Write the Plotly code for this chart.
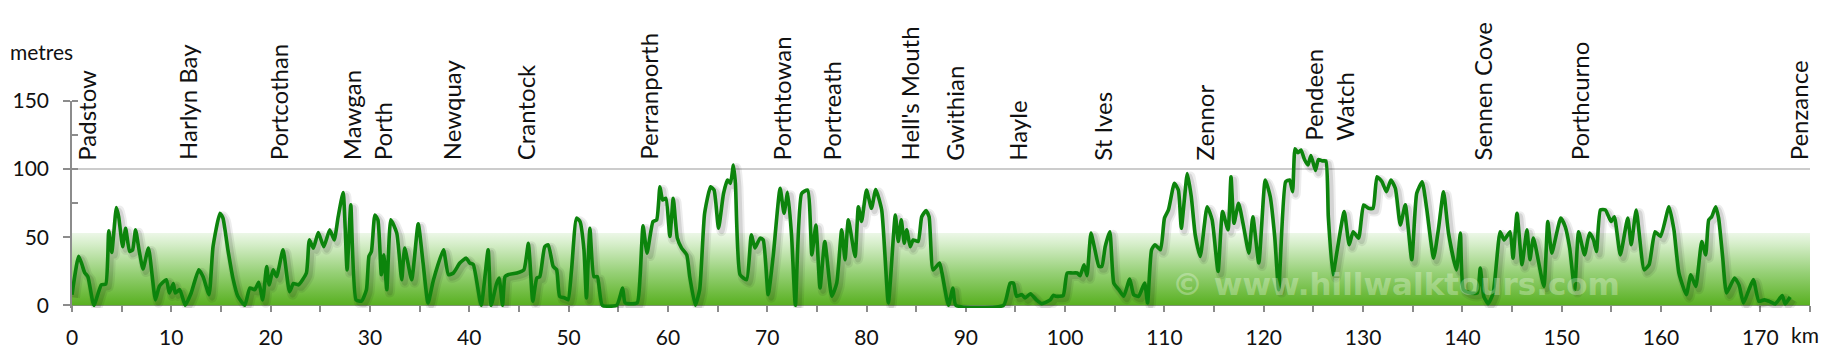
import plotly.graph_objects as go

# distance along the path (km) and elevation (metres)
km = [0.0, 0.67, 1.0, 1.27, 1.6, 2.2, 2.95, 3.4, 3.7, 4.0, 4.47, 4.7, 5.1, 5.4, 5.8, 6.1, 6.4, 6.75, 7.15, 7.7,
      8.4, 8.8, 9.5, 9.8, 10.2, 10.4, 10.85, 11.4, 12.0, 12.76, 13.2, 13.8, 14.2, 14.9, 15.2, 15.7, 16.2, 16.7,
      17.4, 17.9, 18.4, 18.8, 19.2, 19.6, 19.85, 20.25, 20.6, 21.25, 21.9, 22.3, 22.8, 23.6, 23.9, 24.3, 24.8,
      25.35, 25.95, 26.4, 26.8, 27.3, 27.7, 28.07, 28.6, 29.15, 29.65, 29.9, 30.15, 30.5, 30.8, 31.15, 31.4,
      31.7, 32.1, 32.7, 33.2, 33.5, 34.2, 34.86, 35.35, 35.85, 36.4, 37.4, 37.9, 38.4, 39.05, 39.7, 40.05,
      40.4, 41.2, 41.9, 42.2, 42.75, 43.0, 43.35, 43.6, 43.9, 44.8, 45.5, 45.95, 46.1, 46.4, 46.8, 47.1, 47.6,
      47.95, 48.45, 48.8, 49.1, 49.6, 49.95, 50.3, 50.8, 51.15, 51.55, 51.8, 52.15, 52.55, 52.9, 53.4, 54.85,
      55.44, 55.7, 56.9, 57.2, 57.5, 57.9, 58.5, 58.87, 59.2, 59.47, 59.8, 60.2, 60.54, 60.95, 61.38, 61.9,
      62.2, 62.76, 63.2, 63.7, 64.3, 64.65, 65.1, 65.6, 66.0, 66.3, 66.6, 66.8, 67.27, 67.93, 68.4, 68.77,
      69.28, 69.6, 70.1, 70.6, 71.3, 71.7, 72.06, 72.45, 72.84, 73.46, 74.07, 74.5, 74.9, 75.32, 75.8, 76.5,
      77.0, 77.5, 77.84, 78.17, 78.85, 79.18, 79.5, 80.0, 80.5, 80.93, 81.53, 82.2, 82.9, 83.2, 83.5, 83.8,
      84.05, 84.4, 84.7, 85.2, 85.56, 86.0, 86.3, 86.7, 87.35, 87.6, 88.25, 88.7, 89.0, 93.8, 94.46, 94.8,
      95.1, 95.65, 95.97, 96.5, 97.1, 97.65, 98.5, 98.8, 99.1, 99.8, 100.2, 100.7, 101.2, 101.5, 101.9, 102.2,
      102.6, 103.0, 103.4, 103.7, 104.03, 104.5, 104.9, 105.4, 105.9, 106.5, 106.9, 107.4, 108.0, 108.3,
      108.7, 109.05, 109.6, 110.0, 110.4, 111.0, 111.4, 111.7, 112.0, 112.3, 112.7, 113.1, 113.6, 114.3,
      114.8, 115.4, 115.85, 116.4, 116.7, 117.0, 117.46, 117.97, 118.5, 118.9, 119.5, 120.15, 120.65, 121.1,
      121.5, 122.2, 122.6, 122.9, 123.15, 123.45, 123.75, 124.1, 124.45, 124.75, 125.2, 125.5, 125.9, 126.25,
      126.5, 126.96, 127.4, 128.1, 128.6, 129.0, 129.55, 130.05, 130.55, 131.0, 131.4, 131.9, 132.35, 132.8,
      133.25, 133.75, 134.25, 134.9, 135.4, 135.95, 136.4, 137.1, 137.6, 138.1, 138.6, 139.4, 139.8, 140.1,
      140.8, 141.5, 141.8, 142.15, 142.6, 143.1, 143.8, 144.2, 144.8, 145.1, 145.5, 146.0, 146.5, 146.8,
      147.15, 148.2, 148.6, 149.0, 149.9, 150.35, 150.8, 151.3, 151.7, 152.3, 152.8, 153.2, 153.5, 153.9,
      154.4, 154.97, 155.3, 155.9, 156.65, 157.0, 157.5, 158.3, 158.8, 159.4, 159.95, 160.8, 161.3, 161.8,
      162.55, 163.0, 163.5, 164.1, 164.5, 164.8, 165.1, 165.5, 165.8, 166.2, 166.6, 167.4, 167.85, 168.3,
      168.85, 169.3, 169.85, 170.4, 170.9, 171.5, 172.2, 172.5, 173.0]
elev = [7.8, 36, 30, 24, 21, 0, 15, 15.6, 54.6, 38.8, 71.7, 65, 43, 56.6, 39.5, 40.7, 55.4, 40.7, 26.6, 42,
        4, 14, 18.8, 9, 16, 9, 11.5, 0, 9, 26, 21, 7.8, 43, 67.6, 64, 40.7, 20, 6.6,
        0, 12.7, 11.5, 16.8, 4, 28.5, 15, 26, 21, 40.7, 10, 16, 15, 23.7, 48, 42, 53.4,
        43, 55.4, 48, 65, 82.7, 26, 73.7, 4, 3, 11.5, 36, 39.5, 66.3, 62.7, 22.4, 37,
        11.5, 62.7, 53, 18.8, 42, 18.8, 59.8, 31, 1.7, 18.8, 40.7, 22.4, 23.7, 31, 34.6, 31,
        30, 0, 40.7, 0, 16, 20, 0, 21, 22.4, 23.7, 26, 45.6, 33.4, 3, 20, 21, 43,
        44.4, 28.5, 26, 6.6, 5.4, 4, 26, 64, 61.5, 40.7, 5.4, 56.6, 21, 21, 0, 0,
        12.7, 1.7, 1.7, 21, 58.3, 38.3, 61.5, 62.7, 87, 77.3, 78.5, 50.5, 78.5, 49.3, 42, 37,
        21, 0, 11.5, 67.6, 87, 84.6, 56.6, 82, 92, 89.5, 103, 89.5, 22.4, 18.8, 51.7, 42,
        49.3, 48, 7.8, 35.9, 85.9, 67.6, 83, 51.7, 0, 82, 84.6, 37, 59, 12.7, 46.8, 6.6,
        16.3, 55.4, 33.4, 62.7, 35.9, 72.4, 61.5, 84.6, 71.2, 85, 70, 1.7, 66.3, 46.8, 62.7, 45.6,
        55.4, 43, 48, 46.8, 65, 69.5, 65, 26, 31, 23.7, 0, 12.7, 0, 0, 16.3, 16.3,
        6.6, 7.8, 5.4, 8.5, 4, 1.2, 4, 7.3, 6.6, 7.1, 23.7, 23.7, 23.7, 21.7, 29.8, 21.7,
        53, 40.7, 28.5, 28.5, 43, 54, 16.3, 11.5, 6.6, 19.3, 7.8, 6.6, 16.3, 1.7,
        40.7, 44.4, 40.7, 64, 70, 89.5, 84.6, 56.6, 77.3, 96.8, 79.8, 51.7, 35.9, 72.4,
        62.7, 24.9, 68.8, 55.4, 94.4, 60.2, 74.9, 57.8, 38.3, 65, 31, 92, 79.8, 50.5,
        11.5, 90.7, 92, 83.4, 115, 112, 114, 107, 103, 110, 99, 107, 106, 106,
        65, 22.4, 40.7, 68.8, 44.4, 54, 49.3, 73.7, 71.2, 71.2, 94.4, 90.7, 83.4, 92,
        85.9, 59, 73.7, 33.4, 82.2, 90.7, 71.2, 34.6, 56.6, 83.4, 53, 26, 53, 11.5,
        9, 9, 27.3, 6.6, 1.2, 9, 54, 48, 54, 34.6, 67.6, 29.8, 55.4, 33.4,
        49.3, 13.9, 61.5, 38.3, 64, 57.8, 42, 11.5, 54, 37, 53, 48, 39.5, 70,
        70, 61.5, 65, 37, 64, 44.4, 70, 26, 29.8, 54, 50.5, 72.4, 55.4, 23.7,
        7.8, 22.4, 13.9, 46.8, 37, 62.7, 65, 72.4, 64, 35.9, 9, 20, 15, 1.7,
        11.5, 18.8, 2.9, 4, 2.9, 1, 7.1, 1, 6.1]

# place names along the route
places = ["Padstow", "Harlyn Bay", "Portcothan", "Mawgan<br>Porth", "Newquay", "Crantock", "Perranporth",
          "Porthtowan", "Portreath", "Hell's Mouth", "Gwithian", "Hayle", "St Ives", "Zennor",
          "Pendeen<br>Watch", "Sennen Cove", "Porthcurno", "Penzance"]
place_km = [1.5, 11.65, 20.8, 29.7, 38.2, 45.6, 58.1, 71.4, 76.5, 84.3, 88.9, 95.2, 103.8, 114.0,
            126.5, 142.0, 151.8, 173.8]
place_base = [105, 105, 105, 105, 105, 105, 105, 105, 105, 105, 105, 105, 105, 105,
              119.5, 105, 105, 105]

x_max = 175
y_min = -2          # small margin below 0 so the line lying on the axis is not clipped
y_max = 150
band_top = 53

fig = go.Figure()

# green gradient band
fig.add_trace(go.Scatter(
    x=[0, x_max, x_max, 0, 0], y=[0, 0, band_top, band_top, 0],
    mode="lines", line=dict(width=0), fill="toself",
    fillgradient=dict(type="vertical",
                      colorscale=[[0, "rgb(88,176,32)"], [0.45, "rgb(150,208,118)"],
                                  [0.85, "rgb(214,238,202)"], [1, "rgb(236,247,231)"]]),
    hoverinfo="skip", showlegend=False))

# soft shadow (drawn on a slightly offset overlay axis)
for w, a in [(10, 0.07), (6, 0.10)]:
    fig.add_trace(go.Scatter(x=km, y=elev, mode="lines", xaxis="x2", yaxis="y2",
                             line=dict(color=f"rgba(0,0,0,{a})", width=w, shape="spline", smoothing=0.5),
                             hoverinfo="skip", showlegend=False))

# main profile line
fig.add_trace(go.Scatter(x=km, y=elev, mode="lines", xaxis="x3", yaxis="y3",
                         line=dict(color="rgb(12,132,12)", width=3.6, shape="spline", smoothing=0.5),
                         showlegend=False))

font_main = "Lato, 'Open Sans', sans-serif"
annotations = []
for name, xk, yb in zip(places, place_km, place_base):
    annotations.append(dict(x=xk, y=yb, xref="x", yref="y", text=name, showarrow=False,
                            textangle=-90, xanchor="center", yanchor="bottom", align="left",
                            font=dict(family=font_main, size=24, color="#111111")))
annotations.append(dict(x=-0.037, y=1.239, xref="paper", yref="paper", text="metres", showarrow=False,
                        xanchor="left", yanchor="middle", font=dict(family=font_main, size=21, color="#111111")))
annotations.append(dict(x=0.997, y=-0.128, xref="paper", yref="paper", text="km", showarrow=False,
                        xanchor="center", yanchor="middle", font=dict(family=font_main, size=21, color="#111111")))
annotations.append(dict(x=133.3, y=15.9, xref="x", yref="y", text="© www.hillwalktours.com", showarrow=False,
                        xanchor="center", yanchor="middle",
                        font=dict(family="DejaVu Sans", size=31, color="rgba(255,255,255,0.3)", weight="bold")))

dx = 0.3
dy = 2.2
fig.update_layout(
    width=1835, height=360,
    margin=dict(l=72, r=25, t=101, b=52),
    paper_bgcolor="white", plot_bgcolor="white",
    annotations=annotations,
    xaxis=dict(range=[0, x_max], tick0=0, dtick=10, ticks="outside", ticklen=6, tickwidth=1.5,
               anchor="free", position=(0 - y_min) / (y_max - y_min),
               tickcolor="#8c8c8c", showline=True, linecolor="#8c8c8c", linewidth=1.5,
               showgrid=False, zeroline=False, ticklabelstandoff=8, layer="below traces",
               minor=dict(dtick=5, ticks="outside", ticklen=6, tickwidth=1.5, tickcolor="#8c8c8c", showgrid=False),
               tickfont=dict(family=font_main, size=21, color="#111111")),
    yaxis=dict(range=[y_min, y_max], tick0=0, dtick=50, ticks="outside", ticklen=7, tickwidth=1.5,
               tickcolor="#8c8c8c", showline=True, linecolor="#8c8c8c", linewidth=1.5,
               showgrid=True, gridcolor="#cccccc", gridwidth=1.5, zeroline=False, ticklabelstandoff=10,
               layer="below traces",
               minor=dict(dtick=25, ticks="inside", ticklen=6, tickwidth=1.5, tickcolor="#8c8c8c", showgrid=False),
               tickfont=dict(family=font_main, size=21, color="#111111")),
    xaxis2=dict(range=[-dx, x_max - dx], overlaying="x", anchor="y2", visible=False),
    yaxis2=dict(range=[y_min + dy, y_max + dy], overlaying="y", anchor="x2", visible=False),
    xaxis3=dict(range=[0, x_max], overlaying="x", anchor="y3", visible=False),
    yaxis3=dict(range=[y_min, y_max], overlaying="y", anchor="x3", visible=False),
)

fig.write_html("out.html")
